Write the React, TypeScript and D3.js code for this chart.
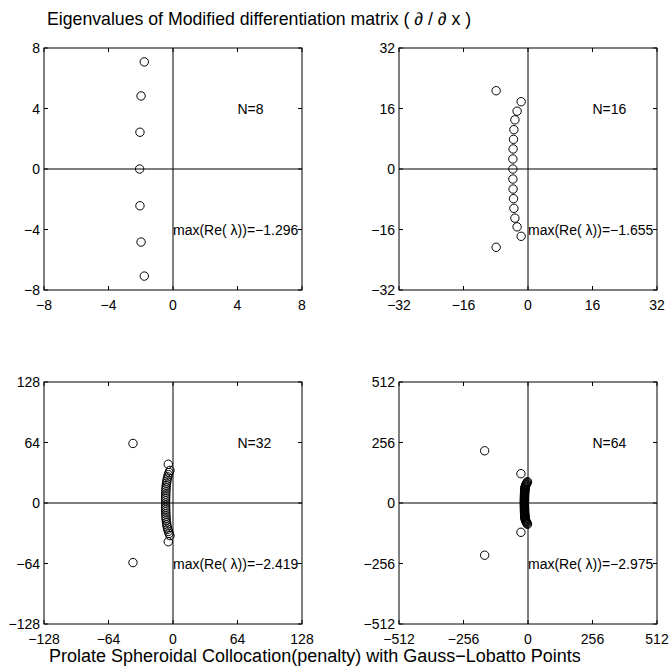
import React from "react";
import * as d3 from "d3";

// ---- data ----
const n8Re = [-1.78, -1.98, -2.05, -2.07, -2.05, -1.98, -1.78];
const n8Im = [7.08, 4.83, 2.43, 0, -2.43, -4.83, -7.08];

const n16Re = [-7.9, -1.7, -2.7, -3.25, -3.5, -3.6, -3.7, -3.75, -3.75, -3.75, -3.7, -3.6, -3.5, -3.25, -2.7, -1.7, -7.9];
const n16Im = [20.7, 17.8, 15.3, 13, 10.4, 7.85, 5.3, 2.65, 0, -2.65, -5.3, -7.85, -10.4, -13, -15.3, -17.8, -20.7];

const n32Re = [-39.7, -4.7, -3.0, -3.9, -4.6, -5.2, -5.7, -6.1, -6.4, -6.7, -6.9, -7.0, -7.1, -7.2, -7.25, -7.3, -7.3, -7.3,
  -7.3, -7.3, -7.25, -7.2, -7.1, -7.0, -6.9, -6.7, -6.4, -6.1, -5.7, -5.2, -4.6, -3.9, -3.0, -4.7, -39.7];
const n32Im = [63, 41, 34.5, 32.2, 30, 27.7, 25.4, 23.1, 20.8, 18.5, 16.2, 13.9, 11.6, 9.3, 7, 4.7, 2.4, 0,
  -2.4, -4.7, -7, -9.3, -11.6, -13.9, -16.2, -18.5, -20.8, -23.1, -25.4, -27.7, -30, -32.2, -34.5, -41, -63];

const n64Re = [-172, -28, -2, -3.5, -5, -6.5, -8, -9, -10, -10.8, -11.4, -11.9, -12.3, -12.6, -12.9, -13.1, -13.3, -13.4,
  -13.5, -13.6, -13.7, -13.8, -13.8, -13.9, -13.9, -14, -14, -14, -14.1, -14.1, -14.1, -14.1, -14.1,
  -14.1, -14.1, -14.1, -14.1, -14, -14, -14, -13.9, -13.9, -13.8, -13.8, -13.7, -13.6, -13.5, -13.4, -13.3,
  -13.1, -12.9, -12.6, -12.3, -11.9, -11.4, -10.8, -10, -9, -8, -6.5, -5, -3.5, -2, -28, -172];
const n64Im = [221, 124, 90, 87, 84, 81, 78, 75, 72, 69, 66, 63, 60, 57, 54, 51, 48, 45, 42, 39, 36, 33, 30, 27, 24, 21,
  18, 15, 12, 9, 6, 3, 0, -3, -6, -9, -12, -15, -18, -21, -24, -27, -30, -33, -36, -39, -42, -45, -48, -51, -54, -57,
  -60, -63, -66, -69, -72, -75, -78, -81, -84, -87, -90, -124, -221];

const limits = [8, 32, 128, 512];
const tickSets = [
  [-8, -4, 0, 4, 8],
  [-32, -16, 0, 16, 32],
  [-128, -64, 0, 64, 128],
  [-512, -256, 0, 256, 512],
];
const nLabels = ["N=8", "N=16", "N=32", "N=64"];
const maxLabels = ["max(Re( \u03bb))=\u22121.296", "max(Re( \u03bb))=\u22121.655", "max(Re( \u03bb))=\u22122.419", "max(Re( \u03bb))=\u22122.975"];
const titleText = "Eigenvalues of Modified differentiation matrix ( \u2202 / \u2202 x )";
const bottomText = "Prolate Spheroidal Collocation(penalty) with Gauss\u2212Lobatto Points";

const seriesRe = [n8Re, n16Re, n32Re, n64Re];
const seriesIm = [n8Im, n16Im, n32Im, n64Im];

// ---- layout ----
const W = 670, H = 668;
const PW = 258, PH = 242;
const origins = [[44, 48], [399, 48], [44, 382], [399, 382]];
const FONT = "'Liberation Sans', Arial, Helvetica, sans-serif";
const fmt = (v: number) => (v < 0 ? "\u2212" + Math.abs(v) : String(v));

function Panel({ idx }: { idx: number }) {
  const [x0, y0] = origins[idx];
  const L = limits[idx];
  const sx = d3.scaleLinear().domain([-L, L]).range([x0, x0 + PW]);
  const sy = d3.scaleLinear().domain([-L, L]).range([y0 + PH, y0]);
  const ticks = tickSets[idx];
  const re = seriesRe[idx], im = seriesIm[idx];
  const tl = 4;
  return (
    <g>
      <rect x={x0} y={y0} width={PW} height={PH} fill="#fff" stroke="none" />
      {/* zero axes */}
      <line x1={sx(-L)} x2={sx(L)} y1={sy(0)} y2={sy(0)} stroke="#000" strokeWidth={1} />
      <line x1={sx(0)} x2={sx(0)} y1={sy(-L)} y2={sy(L)} stroke="#000" strokeWidth={1} />
      {/* ticks */}
      {ticks.map((t, i) => (
        <g key={"t" + i}>
          <line x1={sx(t)} x2={sx(t)} y1={y0 + PH} y2={y0 + PH - tl} stroke="#000" />
          <line x1={sx(t)} x2={sx(t)} y1={y0} y2={y0 + tl} stroke="#000" />
          <line x1={x0} x2={x0 + tl} y1={sy(t)} y2={sy(t)} stroke="#000" />
          <line x1={x0 + PW} x2={x0 + PW - tl} y1={sy(t)} y2={sy(t)} stroke="#000" />
          <text x={sx(t)} y={y0 + PH + 20} textAnchor="middle" fontSize={14} fontFamily={FONT} fill="#000">{fmt(t)}</text>
          <text x={x0 - 4} y={sy(t) + 5} textAnchor="end" fontSize={14} fontFamily={FONT} fill="#000">{fmt(t)}</text>
        </g>
      ))}
      {/* points */}
      {re.map((r, i) => (
        <circle key={"c" + i} cx={sx(r)} cy={sy(im[i])} r={4.2} fill="none" stroke="#000" strokeWidth={1} />
      ))}
      {/* annotations */}
      <text x={sx(L / 2)} y={sy(L / 2) + 5} fontSize={14} fontFamily={FONT} fill="#000">{nLabels[idx]}</text>
      <text x={sx(0)} y={sy(-L / 2) + 5} fontSize={14} fontFamily={FONT} fill="#000">{maxLabels[idx]}</text>
      {/* box */}
      <rect x={x0} y={y0} width={PW} height={PH} fill="none" stroke="#000" strokeWidth={1} />
    </g>
  );
}

export default function App() {
  return (
    <svg width={W} height={H} style={{ position: "absolute", left: 0, top: 0, background: "#fff" }}>
      <rect x={0} y={0} width={W} height={H} fill="#fff" />
      <text x={47} y={25} fontSize={17.7} fontFamily={FONT} fill="#000">{titleText}</text>
      {[0, 1, 2, 3].map((i) => <Panel key={i} idx={i} />)}
      <text x={49} y={662} fontSize={18} fontFamily={FONT} fill="#000">{bottomText}</text>
    </svg>
  );
}
